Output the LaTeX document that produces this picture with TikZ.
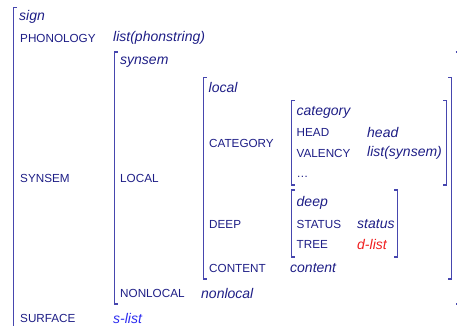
\documentclass[tikz,border=0pt]{standalone}
\usepackage{fontspec}
\setmainfont{Liberation Sans}
\definecolor{avmtext}{HTML}{1E1E86}
\definecolor{avmbrk}{HTML}{4646AE}
\definecolor{avmblue}{HTML}{2C2CF0}
\definecolor{avmred}{HTML}{F01E1E}
\tikzset{
  attr/.style={anchor=west, inner sep=0pt, text=avmtext, font=\fontsize{11.7}{14}\selectfont},
  val/.style={anchor=west, inner sep=0pt, text=avmtext, font=\fontsize{14}{16}\selectfont\itshape},
  brk/.style={draw=avmbrk, line width=1.45pt, line cap=butt, line join=miter},
}
% left and right square brackets: x, top, bottom
\newcommand{\lbrk}[3]{\draw[brk] (#1+3.5,#2) -- (#1,#2) -- (#1,#3) -- (#1+3.5,#3);}
\newcommand{\rbrk}[3]{\draw[brk] (#1-3.5,#2) -- (#1,#2) -- (#1,#3) -- (#1-3.5,#3);}
\begin{document}
\begin{tikzpicture}[x=1pt, y=-1pt]
\useasboundingbox (0,0) rectangle (457,325);
\begin{scope}
\clip (0,0) rectangle (457,325);
% sign
\lbrk{13.5}{7.5}{340}
% synsem
\lbrk{114.3}{52}{304}
\rbrk{459}{52}{304}
% local
\lbrk{203.3}{77.5}{279}
\rbrk{451.5}{77.5}{279}
% category
\lbrk{291.7}{100.7}{185}
\rbrk{446.5}{100.7}{185}
% deep
\lbrk{291.7}{190}{257}
\rbrk{397.5}{190}{257}
\end{scope}

% sign
\node[val]  (sign)   at (19,17)   {sign};
\node[attr] (phon)   at (20,38)   {PHONOLOGY};
\node[val]  (phonv)  at (113,38)  {list(phonstring)};
\node[attr] (syns)   at (20,178)  {SYNSEM};
\node[attr] (surf)   at (20,318)  {SURFACE};
\node[val, text=avmblue] (surfv) at (113,318) {s-list};

% synsem
\node[val]  (synsem) at (120,62)  {synsem};
\node[attr] (loc)    at (120,178) {LOCAL};
\node[attr] (nonloc) at (120,293) {NONLOCAL};
\node[val]  (nonlocv) at (201,293) {nonlocal};

% local
\node[val]  (local)  at (208.5,87) {local};
\node[attr] (cat)    at (209,143) {CATEGORY};
\node[attr] (dp)     at (209,224) {DEEP};
\node[attr] (cont)   at (209,268) {CONTENT};
\node[val]  (contv)  at (290,268) {content};

% category
\node[val]  (category) at (296.5,112) {category};
\node[attr] (head)   at (296.5,132) {HEAD};
\node[val]  (headv)  at (367,132) {head};
\node[attr] (val)    at (296.5,153) {VALENCY};
\node[val]  (valv)   at (367,153) {list(synsem)};
\node[attr, anchor=base west] (dots) at (296.5,177.5) {\dots};

% deep
\node[val]  (deep)   at (296.5,203) {deep};
\node[attr] (stat)   at (296.5,224) {STATUS};
\node[val]  (statv)  at (357,224) {status};
\node[attr] (tree)   at (296.5,244) {TREE};
\node[val, text=avmred] (treev) at (357,244) {d-list};
\end{tikzpicture}
\end{document}
